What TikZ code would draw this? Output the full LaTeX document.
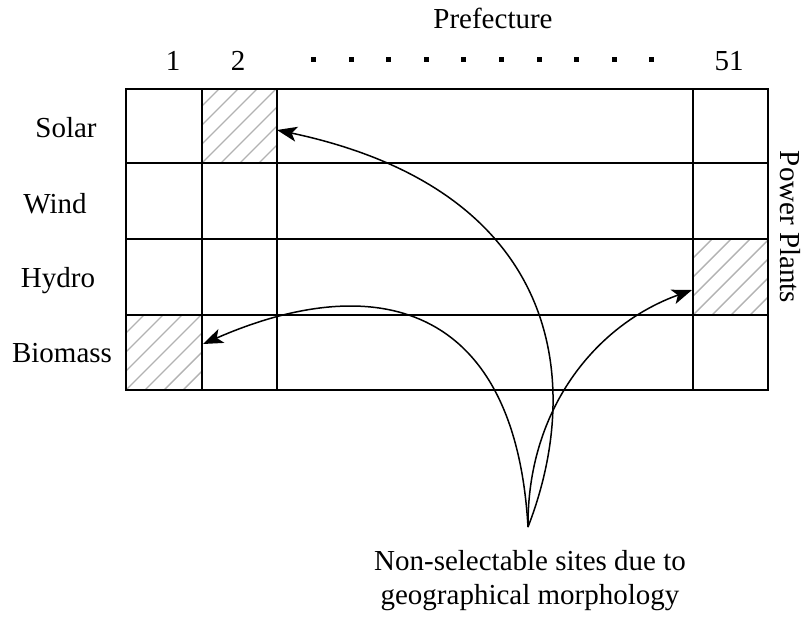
\documentclass[tikz,border=0pt]{standalone}
\usepackage{fontspec}
\setmainfont{Liberation Serif}
\usetikzlibrary{arrows.meta}
\newcommand\hatchcell[4]{%
  \begin{scope}
    \clip (#1,#2) rectangle (#3,#4);
    \foreach \k in {-95,-76,...,95} \draw[hatch] ({#1+\k},#4) -- ++(100,-100);
  \end{scope}}
\begin{document}
\begin{tikzpicture}[x=1pt,y=-1pt,
  gridline/.style={line width=1.7pt},
  hatch/.style={gray!60, line width=1.4pt},
  conn/.style={line width=1.5pt,-{Stealth[length=20pt,width=15pt,inset=5pt]}},
  lbl/.style={font=\fontsize{29}{34}\selectfont, inner sep=0pt, anchor=base}]
\useasboundingbox (0,0) rectangle (803,619);
% hatched cells
\hatchcell{202}{89}{277}{163}
\hatchcell{693}{239}{768}{315}
\hatchcell{126}{315}{202}{390}
% grid
\draw[gridline] (126,89) rectangle (768,390);
\foreach \y in {163,239,315} \draw[gridline] (126,\y) -- (768,\y);
\foreach \x in {202,277,693} \draw[gridline] (\x,89) -- (\x,390);
% top labels
\node[lbl] (pref) at (493,28) {Prefecture};
\node[lbl] (c1) at (173,70) {1};
\node[lbl] (c2) at (238,70) {2};
\node[lbl] (c51) at (729,70) {51};
\foreach \i in {0,...,9} \fill ({311+37.6*\i},57) rectangle ++(5,5);
% row labels
\node[lbl] (solar) at (66,137) {Solar};
\node[lbl] (wind) at (55,213) {Wind};
\node[lbl] (hydro) at (58,287) {Hydro};
\node[lbl] (biomass) at (62,362) {Biomass};
\node[lbl, anchor=center, rotate=-90] (pp) at (790,227) {Power Plants};
% bottom text
\node[lbl] (note1) at (530,570) {Non-selectable sites due to};
\node[lbl] (note2) at (530,604) {geographical morphology};
% connectors
\coordinate (src) at (528,527);
\coordinate (tS) at (277,130);
\coordinate (tH) at (692,290);
\coordinate (tB) at (203,344);
\draw[conn] (src) .. controls (585,380) and (560,190) .. (tS);
\draw[conn] (src) .. controls (515,300) and (372,270) .. (tB);
\draw[conn] (src) .. controls (527,410) and (595,325) .. (tH);
\end{tikzpicture}
\end{document}
